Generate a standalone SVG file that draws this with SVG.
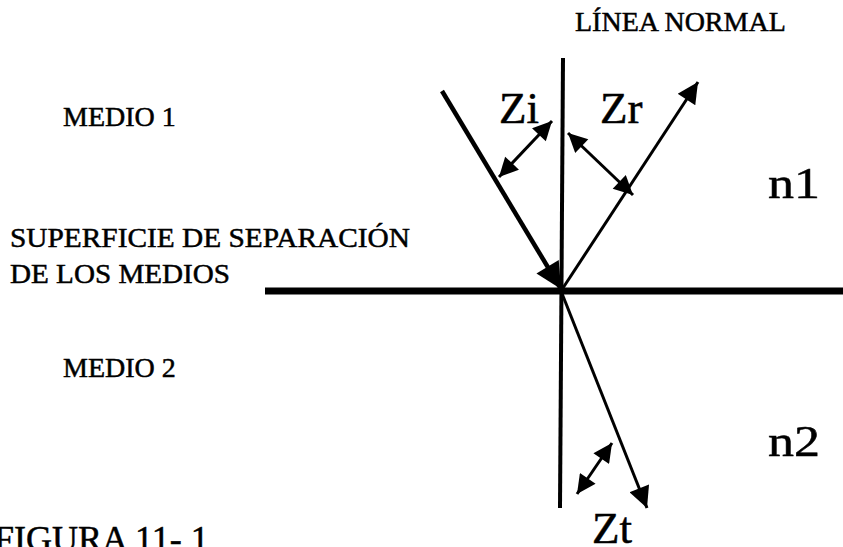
<svg xmlns="http://www.w3.org/2000/svg" width="843" height="547" viewBox="0 0 843 547">
<style>
.t{font-family:"Liberation Serif","Times New Roman",serif;fill:#000;stroke:#000;stroke-width:0.5}
.lbl{font-size:28px}
.ang{font-size:45px}
.ray{stroke:#000;fill:none}
</style>
<defs>
<marker id="hBig" viewBox="0 0 10 10" refX="10" refY="5" markerUnits="userSpaceOnUse" markerWidth="32" markerHeight="26" orient="auto"><path d="M0,0 L10,5 L0,10 z" fill="#000"/></marker>
<marker id="hMed" viewBox="0 0 10 10" refX="10" refY="5" markerUnits="userSpaceOnUse" markerWidth="26" markerHeight="21" orient="auto"><path d="M0,0 L10,5 L0,10 z" fill="#000"/></marker>
<marker id="hSm" viewBox="0 0 10 10" refX="10" refY="5" markerUnits="userSpaceOnUse" markerWidth="21" markerHeight="19" orient="auto-start-reverse"><path d="M0,0 L10,5 L0,10 z" fill="#000"/></marker>
</defs>
<rect width="843" height="547" fill="#fff"/>
<g id="surface"><line x1="265" y1="291" x2="843" y2="291" stroke="#000" stroke-width="7"/></g>
<g id="normal"><line x1="563" y1="58" x2="560" y2="508" stroke="#000" stroke-width="4"/></g>
<g id="connectors">
<line class="ray" x1="442" y1="91" x2="561" y2="289" stroke-width="4.5" marker-end="url(#hBig)"/>
<line class="ray" x1="561" y1="291" x2="698" y2="82" stroke-width="3" marker-end="url(#hMed)"/>
<line class="ray" x1="561" y1="291" x2="647" y2="508" stroke-width="3" marker-end="url(#hMed)"/>
<line class="ray" x1="552" y1="121" x2="499" y2="177" stroke-width="3" marker-start="url(#hSm)" marker-end="url(#hSm)"/>
<line class="ray" x1="568" y1="133" x2="633" y2="195" stroke-width="3" marker-start="url(#hSm)" marker-end="url(#hSm)"/>
<line class="ray" x1="612" y1="443" x2="577" y2="494" stroke-width="3" marker-start="url(#hSm)" marker-end="url(#hSm)"/>
</g>
<g id="labels">
<text class="t lbl" x="575" y="31">LÍNEA NORMAL</text>
<text class="t lbl" x="63" y="126">MEDIO 1</text>
<text class="t lbl" x="10" y="247" textLength="400" lengthAdjust="spacingAndGlyphs">SUPERFICIE DE SEPARACIÓN</text>
<text class="t lbl" x="10" y="283" textLength="220" lengthAdjust="spacingAndGlyphs">DE LOS MEDIOS</text>
<text class="t lbl" x="63" y="377">MEDIO 2</text>
<text class="t ang" x="499" y="123">Zi</text>
<text class="t ang" x="600" y="123">Zr</text>
<text class="t ang" x="768" y="198" textLength="52" lengthAdjust="spacingAndGlyphs">n1</text>
<text class="t ang" x="768" y="456" textLength="52" lengthAdjust="spacingAndGlyphs">n2</text>
<text class="t ang" x="592" y="543">Zt</text>
<text class="t" x="-6" y="551" font-size="36">FIGURA 11- 1</text>
</g>
</svg>
